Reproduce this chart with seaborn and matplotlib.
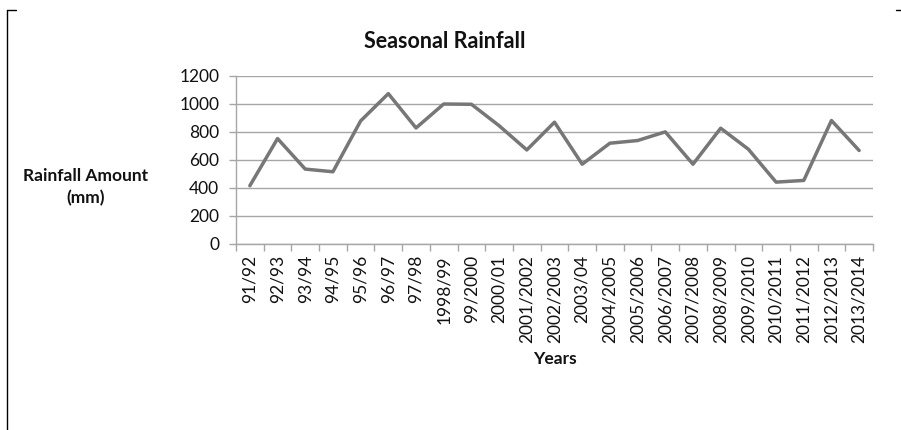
import matplotlib
matplotlib.use("Agg")
import matplotlib.pyplot as plt
from matplotlib.lines import Line2D
from matplotlib.ticker import FixedLocator, NullFormatter
import seaborn as sns
import pandas as pd
import numpy as np

seasons = ["91/92", "92/93", "93/94", "94/95", "95/96", "96/97", "97/98",
           "1998/99", "99/2000", "2000/01", "2001/2002", "2002/2003", "2003/04",
           "2004/2005", "2005/2006", "2006/2007", "2007/2008", "2008/2009",
           "2009/2010", "2010/2011", "2011/2012", "2012/2013", "2013/2014"]
rainfall = [416, 753, 535, 516, 879, 1074, 829, 1000, 998, 845, 672, 870, 570,
            720, 739, 801, 570, 827, 677, 442, 454, 882, 668]
y_ticks = [0, 200, 400, 600, 800, 1000, 1200]

sns.set_theme(style="white")
plt.rcParams['font.family'] = ['Lato', 'DejaVu Sans']

df = pd.DataFrame({"Season": seasons, "Rainfall": rainfall})

fig = plt.figure(figsize=(9.01, 4.30), dpi=100)
W, H = 901, 430
ax = fig.add_axes([236 / W, 1 - 244 / H, (873 - 236) / W, (244 - 76) / H])

sns.lineplot(data=df, x="Season", y="Rainfall", ax=ax, sort=False,
             color="#777777", linewidth=2.5, zorder=3)

ax.set_ylim(0, 1200)
ax.set_xlim(-0.5, len(seasons) - 0.5)
ax.set_yticks(y_ticks)
ax.set_yticklabels([str(v) for v in y_ticks], fontsize=12.5, color="#111111")
ax.set_xticks(range(len(seasons)))
ax.set_xticklabels(seasons, rotation=90, fontsize=12.5, color="#111111")
ax.xaxis.set_minor_locator(FixedLocator(np.arange(-0.5, len(seasons), 1.0)))
ax.xaxis.set_minor_formatter(NullFormatter())

ax.grid(axis="y", color="#a6a6a6", linewidth=1.0, zorder=0)
ax.grid(axis="x", visible=False)
for s in ["top", "right"]:
    ax.spines[s].set_visible(False)
for s in ["left", "bottom"]:
    ax.spines[s].set_color("#a6a6a6")
    ax.spines[s].set_linewidth(1.0)

ax.tick_params(axis="y", which="major", left=True, length=5, width=1,
               color="#a6a6a6", pad=7)
ax.tick_params(axis="x", which="major", bottom=False, length=0, pad=8)
ax.tick_params(axis="x", which="minor", bottom=True, length=5, width=1,
               color="#a6a6a6")

ax.set_xlabel("")
ax.set_ylabel("")

fig.text(445 / W, 1 - 42 / H, "Seasonal Rainfall", ha="center", va="center",
         fontsize=15.5, fontweight="bold", color="#111111")
fig.text(86 / W, 1 - 187 / H, "Rainfall Amount\n(mm)", ha="center",
         va="center", fontsize=12.5, fontweight="bold", color="#111111",
         linespacing=1.45)
fig.text(555 / W, 1 - 359 / H, "Years", ha="center", va="center",
         fontsize=12.5, fontweight="bold", color="#111111")

# outer frame fragments
fig.add_artist(Line2D([7 / W, 7 / W], [1 - 10 / H, 0], color="black",
                      linewidth=1.0, transform=fig.transFigure))
fig.add_artist(Line2D([7 / W, 16 / W], [1 - 10 / H, 1 - 10 / H],
                      color="black", linewidth=1.0, transform=fig.transFigure))
fig.add_artist(Line2D([896 / W, 901 / W], [1 - 10 / H, 1 - 10 / H],
                      color="black", linewidth=1.0, transform=fig.transFigure))

fig.savefig("out.png", dpi=100)
